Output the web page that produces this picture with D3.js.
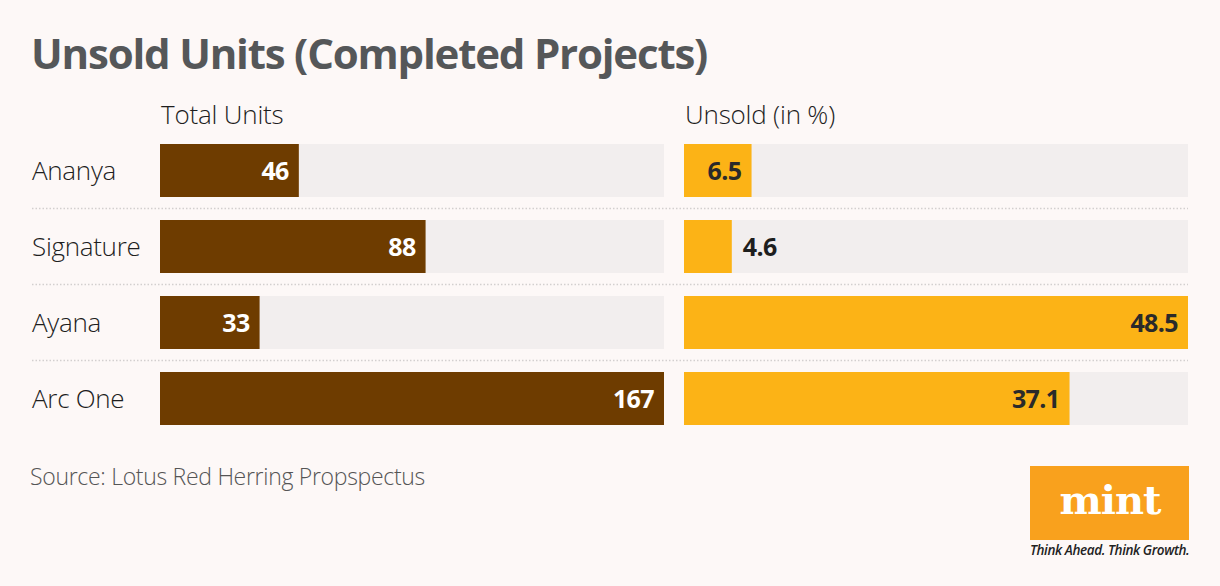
<!DOCTYPE html>
<html>
<head>
<meta charset="utf-8">
<script src="https://cdn.jsdelivr.net/npm/d3@7"></script>
<style>
  html, body { margin: 0; padding: 0; background: #fdf8f7; }
  svg { display: block; }
</style>
</head>
<body>
<svg id="chart"></svg>
<script>
const projects = ['Ananya', 'Signature', 'Ayana', 'Arc One'];
const totalUnits = [46, 88, 33, 167];
const unsoldPct = [6.5, 4.6, 48.5, 37.1];

const width = 1220, height = 586;

let svg = d3.select('#chart')
    .attr('width', width)
    .attr('height', height);

svg.append('rect')
    .attr('width', width)
    .attr('height', height)
    .attr('fill', '#fdf8f7');

svg.append('text')
    .attr('x', 31)
    .attr('y', 69)
    .attr('font-family', 'Open Sans')
    .attr('font-weight', 700)
    .attr('font-size', 42)
    .attr('letter-spacing', -1.2)
    .attr('fill', '#555759')
    .text('Unsold Units (Completed Projects)');

const y = d3.scaleBand()
    .domain(projects)
    .range([144, 425])
    .paddingInner(23 / 76)
    .paddingOuter(0);

const gap = y.step() - y.bandwidth();

// row separators
svg.append('g')
    .selectAll('line')
    .data(projects.slice(1))
    .enter().append('line')
    .attr('x1', 32)
    .attr('x2', 1188)
    .attr('y1', d => y(d) - gap / 2)
    .attr('y2', d => y(d) - gap / 2)
    .attr('stroke', '#d3cfcf')
    .attr('stroke-width', 1.5)
    .attr('stroke-dasharray', '1.5,2');

svg.append('g')
    .selectAll('text')
    .data(projects)
    .enter().append('text')
    .attr('x', 32)
    .attr('y', d => y(d) + y.bandwidth() / 2)
    .attr('dy', '0.35em')
    .attr('font-family', 'Open Sans')
    .attr('font-weight', 300)
    .attr('font-size', 26)
    .attr('letter-spacing', -0.3)
    .attr('fill', '#1e1e1e')
    .text(d => d);

function panel(x0, title, values, color, labelColor, fmt) {
    const x = d3.scaleLinear()
        .domain([0, d3.max(values)])
        .range([x0, x0 + 504]);

    svg.append('text')
        .attr('x', x0 + 1)
        .attr('y', 124)
        .attr('font-family', 'Open Sans')
        .attr('font-weight', 300)
        .attr('font-size', 26)
        .attr('letter-spacing', -0.2)
        .attr('fill', '#1e1e1e')
        .text(title);

    let g = svg.append('g');

    g.selectAll('rect.track')
        .data(values)
        .enter().append('rect')
        .attr('class', 'track')
        .attr('x', x(0))
        .attr('y', (d, i) => y(projects[i]))
        .attr('width', x.range()[1] - x(0))
        .attr('height', y.bandwidth())
        .attr('fill', '#f2eeee');

    g.selectAll('rect.bar')
        .data(values)
        .enter().append('rect')
        .attr('class', 'bar')
        .attr('x', x(0))
        .attr('y', (d, i) => y(projects[i]))
        .attr('width', d => x(d) - x(0))
        .attr('height', y.bandwidth())
        .attr('fill', color);

    const narrow = d => x(d) - x(0) < 60;

    g.selectAll('text')
        .data(values)
        .enter().append('text')
        .attr('x', d => narrow(d) ? x(d) + 11 : x(d) - 10)
        .attr('text-anchor', d => narrow(d) ? 'start' : 'end')
        .attr('y', (d, i) => y(projects[i]) + y.bandwidth() / 2)
        .attr('dy', '0.36em')
        .attr('font-family', 'Open Sans')
        .attr('font-weight', 700)
        .attr('font-size', 25)
        .attr('letter-spacing', -0.6)
        .attr('fill', d => narrow(d) ? '#1e1e1e' : labelColor)
        .text(fmt);
}

panel(160, 'Total Units', totalUnits, '#6e3c00', '#ffffff', d => d);
panel(684, 'Unsold (in %)', unsoldPct, '#fcb316', '#2a2a2a', d => d.toFixed(1));

svg.append('text')
    .attr('x', 30)
    .attr('y', 485)
    .attr('font-family', 'Open Sans')
    .attr('font-weight', 300)
    .attr('font-size', 23)
    .attr('letter-spacing', -0.3)
    .attr('fill', '#555')
    .text('Source: Lotus Red Herring Propspectus');

// mint logo
let logo = svg.append('g');
logo.append('rect')
    .attr('x', 1030)
    .attr('y', 466)
    .attr('width', 159)
    .attr('height', 74)
    .attr('fill', '#f9a11d');
logo.append('text')
    .attr('x', 1110)
    .attr('y', 514)
    .attr('text-anchor', 'middle')
    .attr('font-family', 'DejaVu Serif')
    .attr('font-weight', 700)
    .attr('font-size', 40)
    .attr('letter-spacing', -1)
    .attr('fill', '#ffffff')
    .text('mint');
logo.append('text')
    .attr('x', 1030)
    .attr('y', 555)
    .attr('font-family', 'Open Sans')
    .attr('font-style', 'italic')
    .attr('font-weight', 600)
    .attr('font-size', 13.5)
    .attr('letter-spacing', -0.4)
    .attr('fill', '#222')
    .text('Think Ahead. Think Growth.');
</script>
</body>
</html>
